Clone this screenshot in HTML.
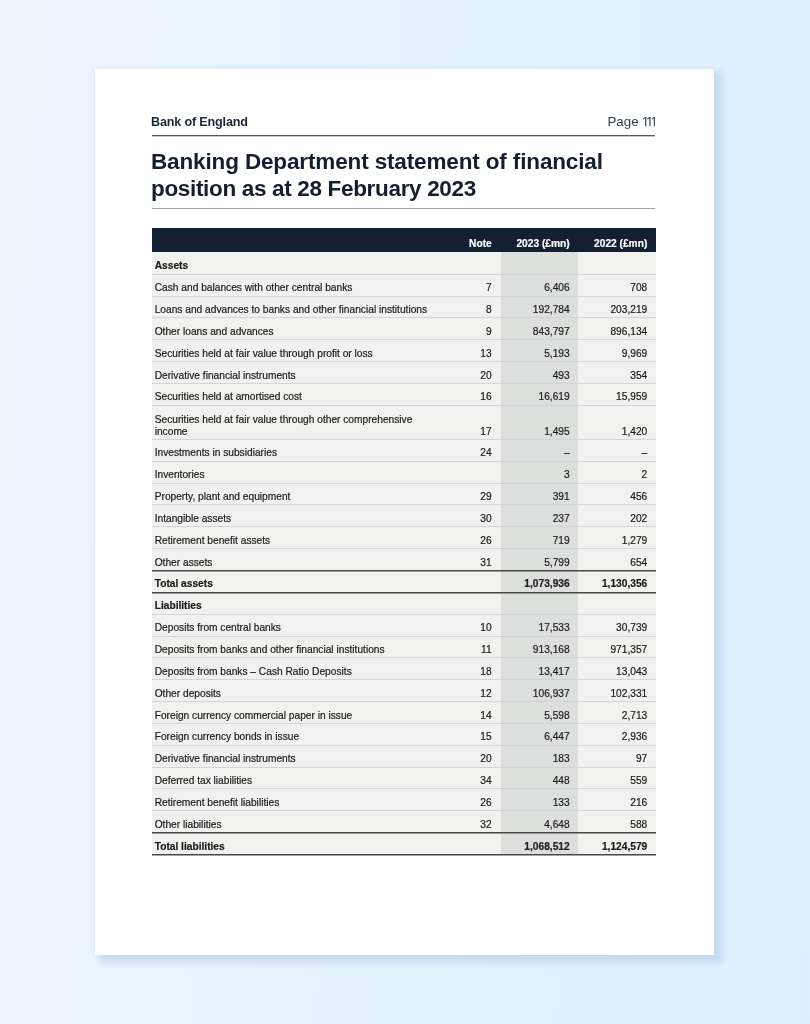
<!DOCTYPE html>
<html lang="en"><head><meta charset="utf-8"><title>Banking Department statement of financial position</title>
<style>
*{box-sizing:border-box;margin:0;padding:0}
html,body{width:810px;height:1024px;overflow:hidden}
body{background:linear-gradient(95deg,#ebf5fe 0%,#deeffe 100%);font-family:"Liberation Sans",Arial,sans-serif;position:relative;color:#1c1c1c}
.page{position:absolute;left:95px;top:69px;width:619px;height:886.2px;background:#fff;box-shadow:6.6px 5.7px 6px 2.3px rgba(165,190,219,.40),0 0 5px rgba(160,187,219,.14)}
.in{position:absolute;left:0;top:-1px;width:619px;height:887px}
.hd{position:absolute;left:56px;top:47px;font-size:12.6px;font-weight:700;color:#1c2738;letter-spacing:-.17px}
.pg{position:absolute;right:59.8px;top:45px;line-height:18px;font-size:13.3px;word-spacing:-.9px;color:#333d4e;white-space:nowrap}
.pg i{font-style:normal;font-family:'NanumGothic','Liberation Sans',sans-serif;font-size:13.2px;letter-spacing:-3.7px;-webkit-text-stroke:.25px #333d4e}
.r1{position:absolute;left:56.6px;width:503.8px;top:67px;height:1px;background:#505a68;box-shadow:0 1px 0 rgba(80,90,104,.35)}
.ttl{position:absolute;left:56px;top:81px;font-size:22.5px;line-height:26.85px;font-weight:700;color:#141e30;letter-spacing:-.2px}
.r2{position:absolute;left:56.6px;width:503.8px;top:140px;height:1px;background:#a0a5ad}
.tbl{position:absolute;left:56.7px;top:159.8px;width:504.2px;font-size:10.2px;-webkit-text-stroke:.2px #1a1a1a}
.th{height:24.2px;background:#131f32;-webkit-text-stroke:.2px #fff;color:#fff;font-weight:700;position:relative}
.row{position:relative;height:21.85px;background:#f1f1ef;border-bottom:1px solid #d2d4d7}
.row span,.th span{position:absolute;bottom:1.4px;white-space:nowrap;line-height:12px}
.th span{bottom:2.4px}
.c1{left:3px}
.c2{right:164.2px;text-align:right}
.c3{right:86.2px;text-align:right}
.c4{right:8.6px;text-align:right}
.shade{position:absolute;left:349.4px;width:76.7px;top:24.2px;bottom:0;background:#dddfdd;}
.row.h,.row.t{font-weight:700}
.row.d{height:34.1px}
.row.first{height:22.8px}
.row.l{border-bottom:1px solid #484848;box-shadow:0 1px 0 rgba(72,72,72,.5)}
.row.t{border-bottom:1px solid #484848;box-shadow:0 1px 0 rgba(72,72,72,.5)}
.rows{position:relative}
.rows .row{background:transparent}
.bg{position:absolute;left:0;right:0;top:24.2px;bottom:0;background:#f1f1ef}
</style></head><body>
<div class="page"><div class="in">
<div class="hd">Bank of England</div>
<div class="pg">Page <i>111</i></div>
<div class="r1"></div>
<div class="ttl"><span style="letter-spacing:-.14px">Banking Department statement of financial</span><br><span style="letter-spacing:-.33px">position as at 28 February 2023</span></div>
<div class="r2"></div>
<div class="tbl">
<div class="bg"></div><div class="shade"></div>
<div class="th"><span class="c2">Note</span><span class="c3">2023 (£mn)</span><span class="c4">2022 (£mn)</span></div>
<div class="rows">
<div class="row h first"><span class="c1">Assets</span><span class="c2"></span><span class="c3"></span><span class="c4"></span></div>
<div class="row r"><span class="c1">Cash and balances with other central banks</span><span class="c2">7</span><span class="c3">6,406</span><span class="c4">708</span></div>
<div class="row r"><span class="c1">Loans and advances to banks and other financial institutions</span><span class="c2">8</span><span class="c3">192,784</span><span class="c4">203,219</span></div>
<div class="row r"><span class="c1">Other loans and advances</span><span class="c2">9</span><span class="c3">843,797</span><span class="c4">896,134</span></div>
<div class="row r"><span class="c1">Securities held at fair value through profit or loss</span><span class="c2">13</span><span class="c3">5,193</span><span class="c4">9,969</span></div>
<div class="row r"><span class="c1">Derivative financial instruments</span><span class="c2">20</span><span class="c3">493</span><span class="c4">354</span></div>
<div class="row r"><span class="c1">Securities held at amortised cost</span><span class="c2">16</span><span class="c3">16,619</span><span class="c4">15,959</span></div>
<div class="row d"><span class="c1">Securities held at fair value through other comprehensive<br>income</span><span class="c2">17</span><span class="c3">1,495</span><span class="c4">1,420</span></div>
<div class="row r"><span class="c1">Investments in subsidiaries</span><span class="c2">24</span><span class="c3">–</span><span class="c4">–</span></div>
<div class="row r"><span class="c1">Inventories</span><span class="c2"></span><span class="c3">3</span><span class="c4">2</span></div>
<div class="row r"><span class="c1">Property, plant and equipment</span><span class="c2">29</span><span class="c3">391</span><span class="c4">456</span></div>
<div class="row r"><span class="c1">Intangible assets</span><span class="c2">30</span><span class="c3">237</span><span class="c4">202</span></div>
<div class="row r"><span class="c1">Retirement benefit assets</span><span class="c2">26</span><span class="c3">719</span><span class="c4">1,279</span></div>
<div class="row l"><span class="c1">Other assets</span><span class="c2">31</span><span class="c3">5,799</span><span class="c4">654</span></div>
<div class="row t"><span class="c1">Total assets</span><span class="c2"></span><span class="c3">1,073,936</span><span class="c4">1,130,356</span></div>
<div class="row h"><span class="c1">Liabilities</span><span class="c2"></span><span class="c3"></span><span class="c4"></span></div>
<div class="row r"><span class="c1">Deposits from central banks</span><span class="c2">10</span><span class="c3">17,533</span><span class="c4">30,739</span></div>
<div class="row r"><span class="c1">Deposits from banks and other financial institutions</span><span class="c2">11</span><span class="c3">913,168</span><span class="c4">971,357</span></div>
<div class="row r"><span class="c1">Deposits from banks – Cash Ratio Deposits</span><span class="c2">18</span><span class="c3">13,417</span><span class="c4">13,043</span></div>
<div class="row r"><span class="c1">Other deposits</span><span class="c2">12</span><span class="c3">106,937</span><span class="c4">102,331</span></div>
<div class="row r"><span class="c1">Foreign currency commercial paper in issue</span><span class="c2">14</span><span class="c3">5,598</span><span class="c4">2,713</span></div>
<div class="row r"><span class="c1">Foreign currency bonds in issue</span><span class="c2">15</span><span class="c3">6,447</span><span class="c4">2,936</span></div>
<div class="row r"><span class="c1">Derivative financial instruments</span><span class="c2">20</span><span class="c3">183</span><span class="c4">97</span></div>
<div class="row r"><span class="c1">Deferred tax liabilities</span><span class="c2">34</span><span class="c3">448</span><span class="c4">559</span></div>
<div class="row r"><span class="c1">Retirement benefit liabilities</span><span class="c2">26</span><span class="c3">133</span><span class="c4">216</span></div>
<div class="row l"><span class="c1">Other liabilities</span><span class="c2">32</span><span class="c3">4,648</span><span class="c4">588</span></div>
<div class="row t"><span class="c1">Total liabilities</span><span class="c2"></span><span class="c3">1,068,512</span><span class="c4">1,124,579</span></div>
</div>
</div>
</div></div>
</body></html>
